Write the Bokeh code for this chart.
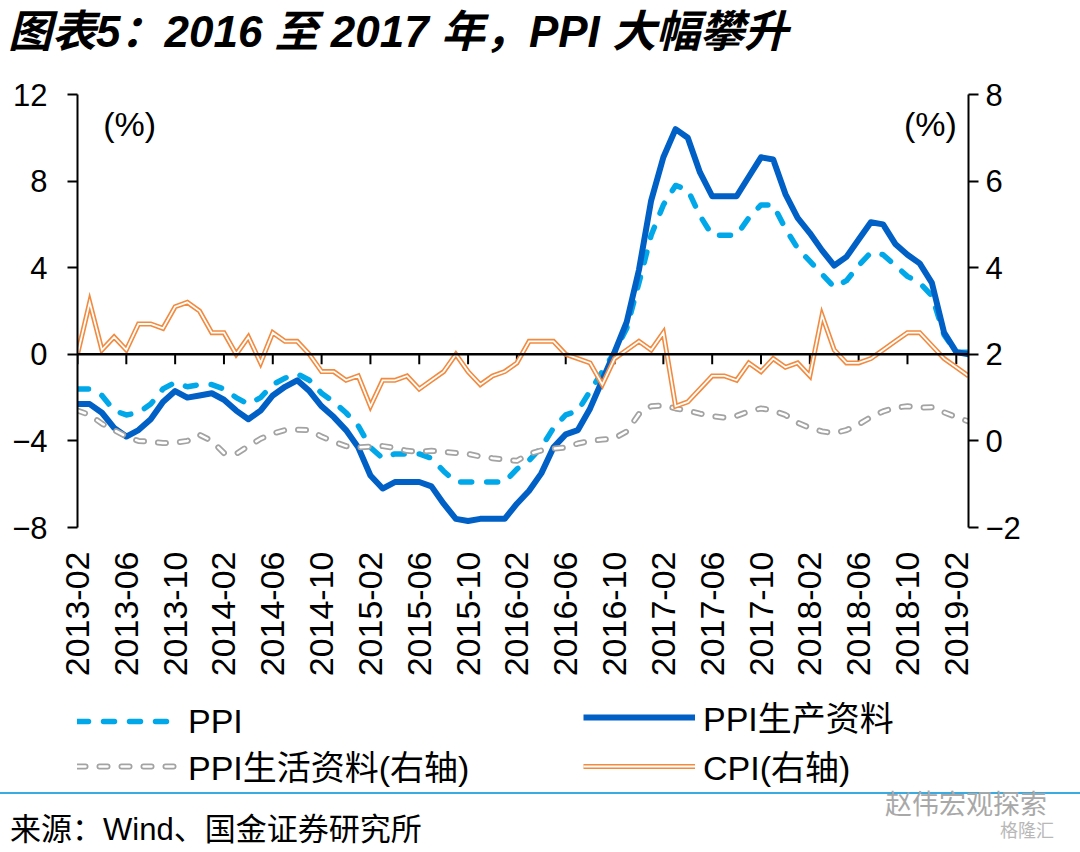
import math
from bokeh.plotting import figure
from bokeh.models import (Range1d, LinearAxis, FixedTicker, Span, Label, Legend,
                          LegendItem, ColumnDataSource, Div)
from bokeh.layouts import column
from bokeh.embed import file_html
from bokeh.resources import INLINE

# ---------------- data (monthly, first point at 2013-02 tick) ----------------
tick_labels = ["2013-02", "2013-06", "2013-10", "2014-02", "2014-06", "2014-10",
               "2015-02", "2015-06", "2015-10", "2016-02", "2016-06", "2016-10",
               "2017-02", "2017-06", "2017-10", "2018-02", "2018-06", "2018-10",
               "2019-02"]
tick_step = 4

ppi = [-1.6, -1.6, -1.9, -2.6, -2.8, -2.7, -2.3, -1.6, -1.3, -1.5, -1.4, -1.4,
       -1.6, -2.0, -2.3, -2.0, -1.4, -1.1, -0.9, -1.2, -1.8, -2.2, -2.7, -3.3,
       -4.3, -4.8, -4.6, -4.6, -4.6, -4.8, -5.4, -5.9, -5.9, -5.9, -5.9, -5.9,
       -5.3, -4.9, -4.3, -3.4, -2.8, -2.6, -1.7, -0.8, 0.1, 1.2, 3.3, 5.5,
       6.9, 7.8, 7.6, 6.4, 5.5, 5.5, 5.5, 6.3, 6.9, 6.9, 5.8, 4.9,
       4.3, 3.7, 3.1, 3.4, 4.1, 4.7, 4.6, 4.1, 3.6, 3.3, 2.7, 0.9,
       0.1, 0.1]

ppi_prod = [-2.3, -2.3, -2.7, -3.4, -3.8, -3.5, -3.0, -2.2, -1.7, -2.0, -1.9, -1.8,
            -2.1, -2.6, -3.0, -2.6, -1.9, -1.5, -1.2, -1.7, -2.4, -2.9, -3.5, -4.3,
            -5.6, -6.2, -5.9, -5.9, -5.9, -6.1, -6.9, -7.6, -7.7, -7.6, -7.6, -7.6,
            -6.9, -6.3, -5.5, -4.3, -3.7, -3.5, -2.5, -1.2, 0.1, 1.5, 3.9, 7.1,
            9.1, 10.4, 10.0, 8.4, 7.3, 7.3, 7.3, 8.2, 9.1, 9.0, 7.4, 6.3,
            5.6, 4.8, 4.1, 4.5, 5.3, 6.1, 6.0, 5.1, 4.6, 4.2, 3.3, 1.0,
            0.1, 0.0]

ppi_cons = [0.7, 0.6, 0.4, 0.25, 0.1, 0.0, -0.02, -0.05, -0.04, 0.0, 0.14, 0.0,
            -0.28, -0.3, -0.12, 0.05, 0.17, 0.25, 0.26, 0.25, 0.1, -0.02, -0.12, -0.15,
            -0.13, -0.12, -0.16, -0.23, -0.25, -0.23, -0.25, -0.28, -0.3, -0.36, -0.4, -0.43,
            -0.46, -0.3, -0.22, -0.18, -0.15, -0.06, 0.0, 0.03, 0.06, 0.22, 0.62, 0.8,
            0.82, 0.75, 0.7, 0.63, 0.57, 0.54, 0.58, 0.68, 0.75, 0.7, 0.6, 0.42,
            0.3, 0.22, 0.18, 0.25, 0.38, 0.55, 0.68, 0.77, 0.8, 0.77, 0.78, 0.66,
            0.55, 0.45]

cpi = [2.0, 3.2, 2.1, 2.4, 2.1, 2.7, 2.7, 2.6, 3.1, 3.2, 3.0, 2.5,
       2.5, 2.0, 2.4, 1.8, 2.5, 2.3, 2.3, 2.0, 1.6, 1.6, 1.4, 1.5,
       0.8, 1.4, 1.4, 1.5, 1.2, 1.4, 1.6, 2.0, 1.6, 1.3, 1.5, 1.6,
       1.8, 2.3, 2.3, 2.3, 2.0, 1.9, 1.8, 1.3, 1.9, 2.1, 2.3, 2.1,
       2.5, 0.8, 0.9, 1.2, 1.5, 1.5, 1.4, 1.8, 1.6, 1.9, 1.7, 1.8,
       1.5, 2.9, 2.1, 1.8, 1.8, 1.9, 2.1, 2.3, 2.5, 2.5, 2.2, 1.9,
       1.7, 1.5]

left_ticks = [-8, -4, 0, 4, 8, 12]
right_ticks = [-2, 0, 2, 4, 6, 8]

title_text = "图表5：2016 至 2017 年，PPI 大幅攀升"
source_text = "来源：Wind、国金证券研究所"
watermark_text = "赵伟宏观探索"
watermark2_text = "格隆汇"
names = ["PPI", "PPI生产资料", "PPI生活资料(右轴)", "CPI(右轴)"]

# ---------------- styles ----------------
FONT = "Liberation Sans, Noto Sans CJK SC"
CSS_FONT = "'Liberation Sans','Noto Sans CJK SC',sans-serif"
C_PPI = "#00A8EA"
C_PROD = "#0060C6"
C_CONS = "#A3A3A3"
C_CPI = "#F28A3F"
STY_PPI = dict(line_color=C_PPI, line_width=5.5, line_dash="11 15", line_cap="round", line_join="round")
STY_PROD = dict(line_color=C_PROD, line_width=6, line_join="round")
STY_CONS_O = dict(line_color=C_CONS, line_width=6, line_dash="8 14", line_cap="round", line_join="round")
STY_CONS_I = dict(line_color="white", line_width=2.5, line_dash="8 14", line_cap="round", line_join="round")
STY_CPI_O = dict(line_color=C_CPI, line_width=5, line_join="miter")
STY_CPI_I = dict(line_color="white", line_width=1.8, line_join="miter")

n = len(ppi)
xs = list(range(n))
src = ColumnDataSource(dict(x=xs, ppi=ppi, prod=ppi_prod, cons=ppi_cons, cpi=cpi))
ticks = [i * tick_step for i in range(len(tick_labels))]

# ---------------- title ----------------
title_div = Div(
    text=(f'<div style="padding:9px 0 0 8px;font-family:{CSS_FONT};font-size:44px;'
          f'font-weight:bold;font-style:italic;line-height:46px;white-space:nowrap;'
          f'color:#000">{title_text}</div>'),
    width=1080, height=70, margin=0)

# ---------------- chart ----------------
p = figure(width=1080, height=620, x_range=Range1d(0, n - 1),
           y_range=Range1d(left_ticks[0], left_ticks[-1]),
           output_backend="svg", toolbar_location=None,
           min_border_left=77, min_border_right=112,
           min_border_top=24, min_border_bottom=163, margin=0)
p.extra_y_ranges = {"right": Range1d(right_ticks[0], right_ticks[-1])}
p.outline_line_color = None
p.xgrid.visible = False
p.ygrid.visible = False

xa = p.xaxis[0]
xa.ticker = FixedTicker(ticks=ticks)
xa.major_label_overrides = {t: lab for t, lab in zip(ticks, tick_labels)}
xa.major_label_orientation = math.pi / 2
xa.axis_line_color = None
xa.major_tick_line_color = None
xa.minor_tick_line_color = None
xa.major_label_standoff = 18
xa.major_label_text_font = FONT
xa.major_label_text_font_size = "34px"
xa.major_label_text_color = "black"

ya = p.yaxis[0]
ya.ticker = FixedTicker(ticks=left_ticks)
ra = LinearAxis(y_range_name="right", ticker=FixedTicker(ticks=right_ticks))
p.add_layout(ra, "right")
for ax, so in ((ya, 20), (ra, 7)):
    ax.axis_line_color = "black"
    ax.axis_line_width = 2
    ax.major_tick_line_color = "black"
    ax.major_tick_line_width = 2
    ax.major_tick_out = 10
    ax.major_tick_in = 0
    ax.minor_tick_line_color = None
    ax.major_label_standoff = so
    ax.major_label_text_font = FONT
    ax.major_label_text_font_size = "31px"
    ax.major_label_text_color = "black"

# zero line acting as category axis, with its ticks
p.add_layout(Span(location=0, dimension="width", line_color="black", line_width=2.5))
p.segment(x0=ticks, x1=ticks, y0=0, y1=-0.46, line_color="black", line_width=2)

# series
p.line("x", "ppi", source=src, **STY_PPI)
p.line("x", "prod", source=src, **STY_PROD)
p.line("x", "cons", source=src, y_range_name="right", **STY_CONS_O)
p.line("x", "cons", source=src, y_range_name="right", **STY_CONS_I)
p.line("x", "cpi", source=src, y_range_name="right", **STY_CPI_O)
p.line("x", "cpi", source=src, y_range_name="right", **STY_CPI_I)

# unit labels
p.add_layout(Label(x=2.1, y=10.62, text="(%)", text_font=FONT, text_font_size="34px",
                   text_baseline="middle", text_align="left", text_color="black"))
p.add_layout(Label(x=72.05, y=10.62, text="(%)", text_font=FONT, text_font_size="34px",
                   text_baseline="middle", text_align="right", text_color="black"))

# ---------------- legend strip ----------------
# legend-only figure: same series drawn far outside its visible range, so only
# the legend swatches show
lf = figure(width=1080, height=100, x_range=Range1d(-1000, -999), y_range=Range1d(0, 1),
            output_backend="svg", toolbar_location=None,
            min_border_left=77, min_border_right=112, min_border_top=0, min_border_bottom=0,
            x_axis_location=None, y_axis_location=None, margin=0)
lf.outline_line_color = None
lf.xgrid.visible = False
lf.ygrid.visible = False
k_ppi = lf.line("x", "ppi", source=src, **STY_PPI)
k_prod = lf.line("x", "prod", source=src, **STY_PROD)
k_cons_o = lf.line("x", "cons", source=src, **STY_CONS_O)
k_cons_i = lf.line("x", "cons", source=src, **STY_CONS_I)
k_cpi_o = lf.line("x", "cpi", source=src, **STY_CPI_O)
k_cpi_i = lf.line("x", "cpi", source=src, **STY_CPI_I)

def mk_legend(items, loc, gw):
    lg = Legend(items=items, location=loc, orientation="vertical")
    lg.glyph_width = gw
    lg.glyph_height = 40
    lg.label_height = 40
    lg.label_standoff = 8
    lg.spacing = 0
    lg.padding = 0
    lg.margin = 0
    lg.border_line_color = None
    lg.background_fill_alpha = 0
    lg.label_text_font = FONT
    lg.label_text_font_size = "34px"
    lg.label_text_color = "black"
    return lg

lf.add_layout(mk_legend([LegendItem(label=names[0], renderers=[k_ppi]),
                         LegendItem(label=names[2], renderers=[k_cons_o, k_cons_i])],
                        (0, 0), 103))
lf.add_layout(mk_legend([LegendItem(label=names[1], renderers=[k_prod]),
                         LegendItem(label=names[3], renderers=[k_cpi_o, k_cpi_i])],
                        (506, 0), 112))

# ---------------- footer ----------------
footer_div = Div(
    text=('<div style="position:relative;width:1080px;height:62px;">'
          '<div style="position:absolute;left:0;top:2px;width:1080px;height:0;'
          'border-top:2px solid #3AAAE3"></div>'
          f'<div style="position:absolute;left:885px;top:-1px;font-family:{CSS_FONT};'
          f'font-size:27px;line-height:32px;white-space:nowrap;color:#A8A8A8">{watermark_text}</div>'
          f'<div style="position:absolute;left:10px;top:22px;font-family:{CSS_FONT};'
          f'font-size:31px;line-height:36px;white-space:nowrap;color:#000">{source_text}</div>'
          f'<div style="position:absolute;left:1000px;top:30px;font-family:{CSS_FONT};'
          f'font-size:18px;line-height:22px;white-space:nowrap;color:#B8B8B8">{watermark2_text}</div>'
          '</div>'),
    width=1080, height=62, margin=0)

layout = column(title_div, p, lf, footer_div, spacing=0)
open("out.html", "w").write(file_html(layout, INLINE))
